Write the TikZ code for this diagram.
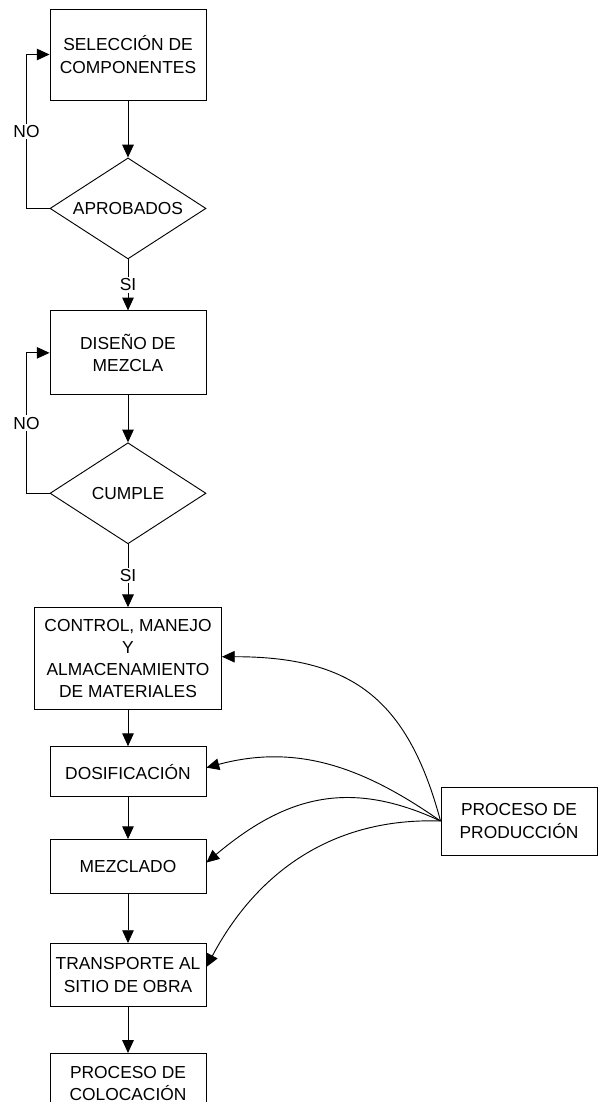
\documentclass[tikz,border=0pt]{standalone}
\usepackage{fontspec}
\setmainfont{Liberation Sans}
\usetikzlibrary{arrows.meta,positioning,shapes.geometric}
\tikzset{
    %Define standard arrow tip
    >={Triangle[length=8.3pt,width=7.5pt]},
    %Define style for boxes
    caja/.style={
           rectangle,
           draw=black,
           minimum width=101.4pt,
           inner sep=2pt,
           align=center,
           font=\fontsize{11.3}{14.4}\selectfont},
    rombo/.style={
           diamond,
           draw=black,
           aspect=1.545,
           minimum width=101.4pt,
           minimum height=65.65pt,
           inner sep=1pt,
           font=\fontsize{11.3}{14.4}\selectfont},
    % Define label style
    etiq/.style={
           fill=white,
           inner sep=1pt,
           font=\fontsize{11.3}{14.4}\selectfont}
}
\begin{document}
\begin{tikzpicture}[->,line width=0.6pt,x=0.65pt,y=0.65pt]
\useasboundingbox (0,0) rectangle (599,-1102);
 %nodes
\node[caja, minimum height=59.15pt] (sel) at (128,-54.5) {SELECCIÓN DE\\COMPONENTES};
\node[rombo, below=37.05pt of sel] (apr) {APROBADOS};
\node[caja, minimum height=54.6pt, below=33.15pt of apr] (dis) {DISEÑO DE\\MEZCLA};
\node[rombo, below=30.55pt of dis] (cum) {CUMPLE};
\node[caja, minimum width=121.55pt, minimum height=66.3pt, below=40.95pt of cum] (ctrl) {CONTROL, MANEJO\\Y\\ALMACENAMIENTO\\DE MATERIALES};
\node[caja, minimum height=32.5pt, below=23.4pt of ctrl] (dos) {DOSIFICACIÓN};
\node[caja, minimum height=35.1pt, below=27.3pt of dos] (mzc) {MEZCLADO};
\node[caja, minimum height=40.95pt, below=31.85pt of mzc] (tra) {TRANSPORTE AL\\SITIO DE OBRA};
\node[caja, minimum height=39pt, below=29.9pt of tra] (col) {PROCESO DE\\COLOCACIÓN};
\node[caja, minimum height=44.2pt] (prod) at (519,-821) {PROCESO DE\\PRODUCCIÓN};

 %main flow
 \path
 	(sel) edge (apr)
 	(apr) edge node[etiq] {SI} (dis)
 	(dis) edge (cum)
 	(cum) edge node[etiq] {SI} (ctrl)
 	(ctrl) edge (dos)
 	(dos) edge (mzc)
 	(mzc) edge (tra)
 	(tra) edge (col);

 %loops back
 \draw (apr.west) -- ++(-23,0) |- node[etiq, pos=0.25] {NO} (sel.west);
 \draw (cum.west) -- ++(-23,0) |- node[etiq, pos=0.25] {NO} (dis.west);

 %production
 \path
 	(prod.west) edge[out=105, in=0, looseness=1.2] ([yshift=1.3pt]ctrl.east)
 		edge[out=145, in=15] ([yshift=2.6pt]dos.east)
 		edge[out=155, in=40, looseness=1.1] ([yshift=2.6pt]mzc.east)
 		edge[out=178, in=62] ([yshift=5.2pt]tra.east);
\end{tikzpicture}
\end{document}
